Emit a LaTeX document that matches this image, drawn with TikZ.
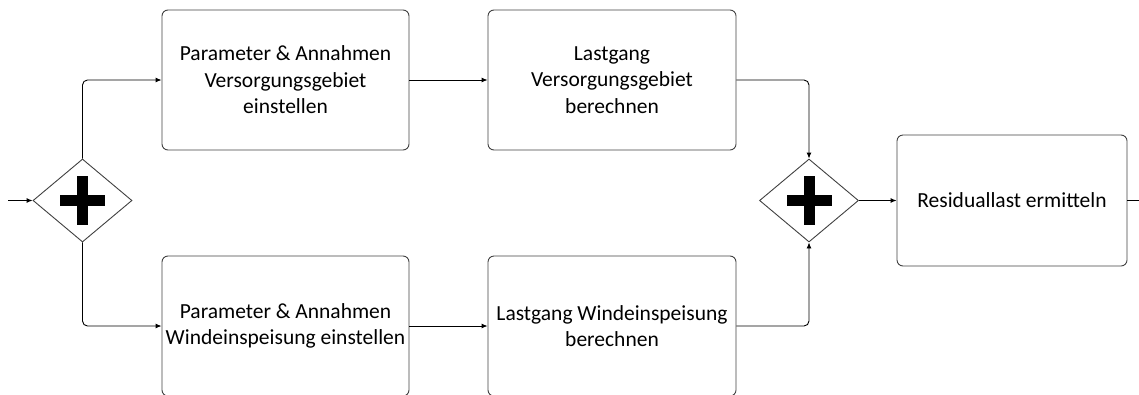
\documentclass[tikz,border=0pt]{standalone}
\usepackage{fontspec}
\setmainfont{Carlito}
\usetikzlibrary{arrows.meta,shapes.geometric,calc}
\definecolor{boxline}{HTML}{404040}
\tikzset{
  task/.style={draw=boxline, line width=0.9pt, rounded corners=6pt, align=center,
    inner sep=0pt, font=\fontsize{21.5}{26.5}\selectfont},
  gate/.style={draw=boxline, line width=0.9pt, diamond, inner sep=0pt,
    minimum width=99pt, minimum height=83pt},
  flow/.style={line width=0.9pt, -{Latex[length=6pt,width=5pt]}},
  plain/.style={line width=0.9pt},
}
% thick plus sign of a parallel gateway
\newcommand{\pluscross}[1]{%
  \fill ($(#1)+(-22.5,-5.5)$) rectangle ($(#1)+(22.5,5.5)$);
  \fill ($(#1)+(-5.5,-24.5)$) rectangle ($(#1)+(5.5,24.5)$);}
\begin{document}
\begin{tikzpicture}[x=1pt, y=-1pt]
  \useasboundingbox (0,0) rectangle (1139,394);

  % gateways
  \node[gate] (split) at (82.5,200.5) {};
  \node[gate] (join) at (809,200.5) {};
  \pluscross{split}
  \pluscross{join}

  % tasks
  \node[task, minimum width=247pt, minimum height=140pt] (paramV) at (285.5,80)
    {Parameter \& Annahmen\\Versorgungsgebiet\\einstellen};
  \node[task, minimum width=248pt, minimum height=140pt] (lastV) at (612,80)
    {Lastgang\\Versorgungsgebiet\\berechnen};
  \node[task, minimum width=247pt, minimum height=140pt] (paramW) at (285.5,326)
    {Parameter \& Annahmen\\Windeinspeisung einstellen};
  \node[task, minimum width=248pt, minimum height=140pt] (lastW) at (612,326)
    {Lastgang Windeinspeisung\\berechnen};
  \node[task, minimum width=230pt, minimum height=131pt] (resid) at (1012,200.5)
    {Residuallast ermitteln};

  % loose ends
  \coordinate (in) at (8,200.5);
  \coordinate (out) at (1139,200.5);

  % sequence flows
  \draw[flow] (in) -- (split.west);
  \draw[flow, rounded corners=5pt] (split.north) |- (paramV.west);
  \draw[flow, rounded corners=5pt] (split.south) |- (paramW.west);
  \draw[flow] (paramV) -- (lastV);
  \draw[flow] (paramW) -- (lastW);
  \draw[flow, rounded corners=5pt] (lastV.east) -| (join.north);
  \draw[flow, rounded corners=5pt] (lastW.east) -| (join.south);
  \draw[flow] (join.east) -- (resid.west);
  \draw[plain] (resid.east) -- (out);
\end{tikzpicture}
\end{document}
